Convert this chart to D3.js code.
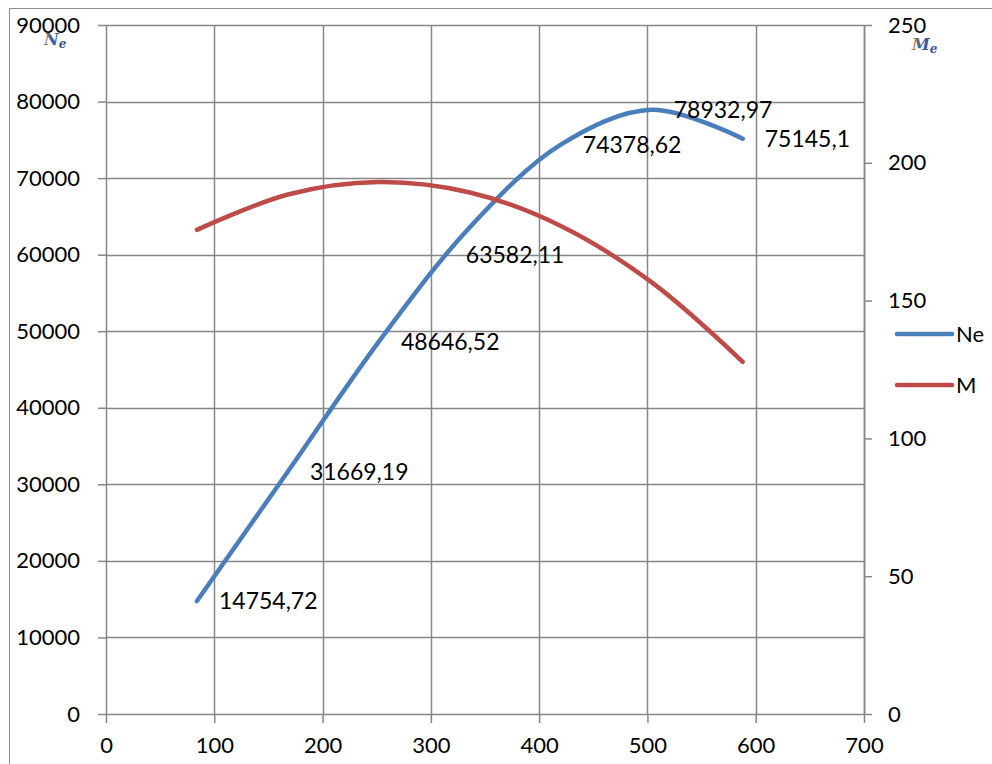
<!DOCTYPE html>
<html>
<head>
<meta charset="utf-8">
<script src="https://cdn.jsdelivr.net/npm/d3@7"></script>
<style>
	body { margin: 0; background: #fff; }
	svg { display: block; font-family: Lato, 'Open Sans', sans-serif; }
</style>
</head>
<body>
<svg id="chart" width="992" height="764"></svg>
<script>
// data
const speeds = [ 84, 168, 252, 336, 420, 504, 588 ];
const neValues = [ 14754.72, 31669.19, 48646.52, 63582.11, 74378.62, 78932.97, 75145.1 ];
const mValues = [ 175.65, 188.51, 193.04, 189.23, 177.09, 156.61, 127.8 ];
const neLabels = [ '14754,72', '31669,19', '48646,52', '63582,11', '74378,62', '78932,97', '75145,1' ];
const xTicks = [ 0, 100, 200, 300, 400, 500, 600, 700 ];
const leftTicks = [ 0, 10000, 20000, 30000, 40000, 50000, 60000, 70000, 80000, 90000 ];
const rightTicks = [ 0, 50, 100, 150, 200, 250 ];
const seriesNames = [ 'Ne', 'M' ];
const seriesColors = [ '#4a7ebb', '#be4b48' ];

const ChartView = {
	margin: { top: 25, right: 128, bottom: 50, left: 106 },
	width: null, height: null,
	xScale: null, yLeft: null, yRight: null,
	svgGroup: null,

	init: function() {
		const self = this;
		let margin = self.margin;
		let svg = d3.select('#chart');
		let width = +svg.attr('width') - margin.left - margin.right;
		let height = +svg.attr('height') - margin.top - margin.bottom;

		self.width = width;
		self.height = height;
		self.xScale = d3.scaleLinear().domain([ 0, 700 ]).range([ 0, width ]);
		self.yLeft = d3.scaleLinear().domain([ 0, 90000 ]).range([ height, 0 ]);
		self.yRight = d3.scaleLinear().domain([ 0, 250 ]).range([ height, 0 ]);

		// outer chart frame, runs off the page on the right and bottom
		svg.append('rect')
			.attr('x', 9.5).attr('y', 8.5)
			.attr('width', 1100).attr('height', 900)
			.style('fill', 'none')
			.style('stroke', '#8c8c8c')
			.style('stroke-width', 1);

		self.svgGroup = svg.append('g')
			.attr('transform', 'translate(' + margin.left + ',' + margin.top + ')');

		self.drawAxes();
		self.drawLine(neValues, self.yLeft, seriesColors[0]);
		self.drawLine(mValues, self.yRight, seriesColors[1]);
		self.drawLabels();
		self.drawLegend();
		self.drawAxisTitles();
	},

	drawAxes: function() {
		const self = this;
		let g = self.svgGroup;
		let width = self.width;
		let height = self.height;
		let gridColor = '#868686';

		g.append('g').selectAll('line')
			.data(xTicks.slice(1))
			.enter().append('line')
			.attr('x1', function(d) { return Math.round(self.xScale(d)) + 0.5; })
			.attr('x2', function(d) { return Math.round(self.xScale(d)) + 0.5; })
			.attr('y1', 0).attr('y2', height)
			.style('stroke', gridColor).style('stroke-width', 1.5);
		g.append('g').selectAll('line')
			.data(leftTicks.slice(1))
			.enter().append('line')
			.attr('x1', 0).attr('x2', width)
			.attr('y1', function(d) { return Math.round(self.yLeft(d)) + 0.5; })
			.attr('y2', function(d) { return Math.round(self.yLeft(d)) + 0.5; })
			.style('stroke', gridColor).style('stroke-width', 1.5);

		let xAxis = g.append('g')
			.attr('class', 'x axis')
			.attr('transform', 'translate(0,' + height + ')')
			.call(d3.axisBottom(self.xScale).tickValues(xTicks).tickSize(9).tickPadding(14).tickSizeOuter(0));
		let leftAxis = g.append('g')
			.attr('class', 'y axis')
			.call(d3.axisLeft(self.yLeft).tickValues(leftTicks).tickFormat(d3.format('d')).tickSize(8).tickPadding(18).tickSizeOuter(0));
		let rightAxis = g.append('g')
			.attr('class', 'y axis')
			.attr('transform', 'translate(' + width + ',0)')
			.call(d3.axisRight(self.yRight).tickValues(rightTicks).tickSize(8).tickPadding(16).tickSizeOuter(0));

		[ xAxis, leftAxis, rightAxis ].forEach(function(axis) {
			axis.selectAll('path, line').style('stroke', gridColor).style('stroke-width', 1.5);
			axis.selectAll('text')
				.style('font-size', '22px')
				.style('font-family', 'Lato, sans-serif')
				.style('fill', '#000');
		});
	},

	drawLine: function(values, yScale, color) {
		const self = this;
		let line = d3.line()
			.x(function(d, i) { return self.xScale(speeds[i]); })
			.y(function(d) { return yScale(d); })
			.curve(d3.curveCatmullRom.alpha(0.5));

		self.svgGroup.append('path')
			.datum(values)
			.attr('d', line)
			.style('fill', 'none')
			.style('stroke', color)
			.style('stroke-width', 4.5)
			.style('stroke-linecap', 'round');
	},

	drawLabels: function() {
		const self = this;
		// one label was dragged down in the original
		let offsets = [ 0, 0, 0, 27, 0, 0, 0 ];

		self.svgGroup.selectAll('.ne-label')
			.data(neLabels)
			.enter().append('text')
			.attr('class', 'ne-label')
			.attr('x', function(d, i) { return self.xScale(speeds[i]) + (i == 3 ? -4 : 22); })
			.attr('y', function(d, i) { return self.yLeft(neValues[i]) + offsets[i]; })
			.attr('dy', '0.36em')
			.style('font-size', '23px')
			.style('fill', '#000')
			.text(function(d) { return d; });
	},

	drawLegend: function() {
		const self = this;
		let legend = d3.select('#chart').append('g')
			.attr('transform', 'translate(897,334)');
		let items = legend.selectAll('g')
			.data(seriesNames)
			.enter().append('g')
			.attr('transform', function(d, i) { return 'translate(0,' + (i * 51) + ')'; });

		items.append('line')
			.attr('x1', 0).attr('x2', 55)
			.style('stroke', function(d, i) { return seriesColors[i]; })
			.style('stroke-width', 4.5)
			.style('stroke-linecap', 'round');
		items.append('text')
			.attr('x', 59)
			.attr('dy', '0.36em')
			.style('font-size', '22px')
			.text(function(d) { return d; });
	},

	drawAxisTitles: function() {
		let svg = d3.select('#chart');
		let defs = svg.append('defs');
		let grad = defs.append('linearGradient')
			.attr('id', 'eq-grad')
			.attr('x1', '0%').attr('x2', '100%').attr('y1', '0%').attr('y2', '0%');
		grad.append('stop').attr('offset', '0%').attr('stop-color', '#d08a2a');
		grad.append('stop').attr('offset', '35%').attr('stop-color', '#3d5fa8');
		grad.append('stop').attr('offset', '100%').attr('stop-color', '#3a4f80');

		// equation images sitting just under the top tick labels
		let titles = [ { x: 44, y: 45, base: 'N' }, { x: 912, y: 50, base: 'M' } ];
		titles.forEach(function(t) {
			let text = svg.append('text')
				.attr('x', t.x).attr('y', t.y)
				.style('font-family', "'DejaVu Serif', serif")
				.style('font-style', 'italic')
				.style('font-weight', 'bold')
				.style('font-size', '16px')
				.style('fill', 'url(#eq-grad)');
			text.append('tspan').text(t.base);
			text.append('tspan')
				.attr('dy', 3)
				.style('font-size', '12px')
				.text('e');
		});
	}
};

ChartView.init();
</script>
</body>
</html>
